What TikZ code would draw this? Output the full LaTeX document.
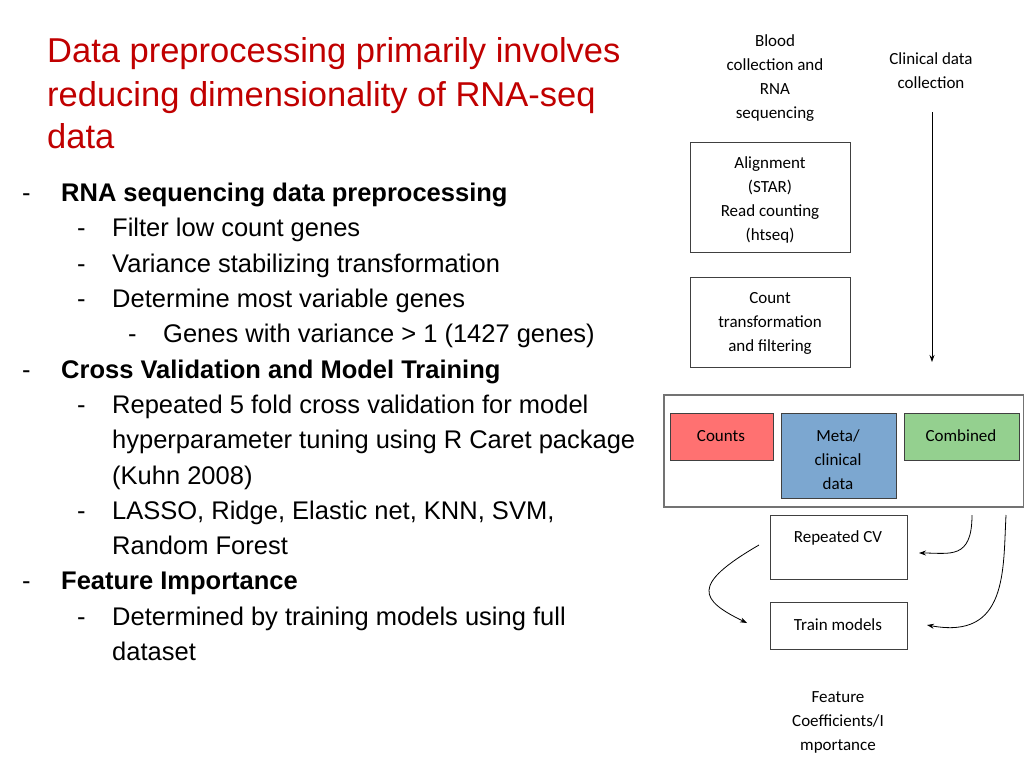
\documentclass[tikz,border=0pt]{standalone}
\usepackage{fontspec}
\setmainfont{Liberation Sans}
\newfontfamily\carl{Carlito}
\usetikzlibrary{arrows.meta}
\definecolor{tred}{HTML}{C00000}
\begin{document}
\begin{tikzpicture}[x=1pt,y=-1pt,
 lt/.style={anchor=base west,inner sep=0,font=\fontsize{25.5}{28}\selectfont},
 ds/.style={anchor=base west,inner sep=0,font=\fontsize{25.5}{28}\selectfont},
 tt/.style={anchor=base west,inner sep=0,text=tred,font=\fontsize{34.5}{38}\selectfont},
 rt/.style={align=center,font=\carl\fontsize{17}{24}\selectfont,inner sep=0},
 bx/.style={draw=black!75,line width=0.8pt},
 arr/.style={-{Stealth[length=7pt,width=5pt]},line width=0.8pt}]
\useasboundingbox (0,0) rectangle (1024,768);
\node[tt] (t1) at (47,63) {Data preprocessing primarily involves};
\node[tt] (t2) at (47,106) {reducing dimensionality of RNA-seq};
\node[tt] (t3) at (47,148) {data};
\foreach \y/\d [count=\i] in {
 193/22, 228/77, 264/77, 299/77, 334/128,
 370/22, 405/77, 511/77, 581/22, 617/77}{
 \node[ds] (d\i) at (\d,\y+8) {-};
}
\node[lt,font=\bfseries\fontsize{25.5}{28}\selectfont] (l1) at (61,201) {RNA sequencing data preprocessing};
\node[lt] (l2) at (112,236) {Filter low count genes};
\node[lt] (l3) at (112,272) {Variance stabilizing transformation};
\node[lt] (l4) at (112,307) {Determine most variable genes};
\node[lt] (l5) at (163,342) {Genes with variance > 1 (1427 genes)};
\node[lt,font=\bfseries\fontsize{25.5}{28}\selectfont] (l6) at (61,378) {Cross Validation and Model Training};
\node[lt] (l7) at (112,413) {Repeated 5 fold cross validation for model};
\node[lt] (l7b) at (112,448) {hyperparameter tuning using R Caret package};
\node[lt] (l7c) at (112,484) {(Kuhn 2008)};
\node[lt] (l8) at (112,519) {LASSO, Ridge, Elastic net, KNN, SVM,};
\node[lt] (l8b) at (112,554) {Random Forest};
\node[lt,font=\bfseries\fontsize{25.5}{28}\selectfont] (l9) at (61,589) {Feature Importance};
\node[lt] (l10) at (112,625) {Determined by training models using full};
\node[lt] (l10b) at (112,660) {dataset};
% right side
\node[rt] (blood) at (775,78) {Blood\\collection and\\RNA\\sequencing};
\node[rt] (clin) at (931,71) {Clinical data\\collection};
\draw[bx] (690,142) rectangle (850,252);
\node[rt] (align) at (770,200) {Alignment\\(STAR)\\Read counting\\(htseq)};
\draw[bx] (690,277) rectangle (850,367);
\node[rt] (count) at (770,323) {Count\\transformation\\and filtering};
\draw[draw=black!55,line width=1.5pt] (664,395) rectangle (1024,507);
\draw[bx,fill={rgb,255:red,255;green,113;blue,113}] (670,413) rectangle (773,460);
\node[rt] (counts) at (721,436) {Counts};
\draw[bx,fill={rgb,255:red,124;green,167;blue,208}] (781,413) rectangle (896,498);
\node[rt] (meta) at (838,460) {Meta/\\clinical\\data};
\draw[bx,fill={rgb,255:red,148;green,208;blue,143}] (904,413) rectangle (1019,460);
\node[rt] (comb) at (961,436) {Combined};
\draw[bx] (770,515) rectangle (907,579);
\node[rt] (rcv) at (838,538) {Repeated CV};
\draw[bx] (770,602) rectangle (907,649);
\node[rt] (train) at (838,625) {Train models};
\node[rt] (feat) at (838,722) {Feature\\Coefficients/I\\mportance};
\coordinate (c1) at (932,112); \coordinate (c2) at (932,362);
\draw[arr] (c1) -- (c2);
\coordinate (a1) at (972,515); \coordinate (a2) at (919,553);
\draw[arr] (a1) .. controls (972,560) and (950,553) .. (a2);
\coordinate (b1) at (1006,515); \coordinate (b2) at (927,625);
\draw[arr] (b1) .. controls (1003,570) and (1008,640) .. (b2);
\coordinate (e1) at (759,545); \coordinate (e2) at (747,623);
\draw[arr] (e1) .. controls (690,585) and (700,600) .. (e2);
\end{tikzpicture}
\end{document}
